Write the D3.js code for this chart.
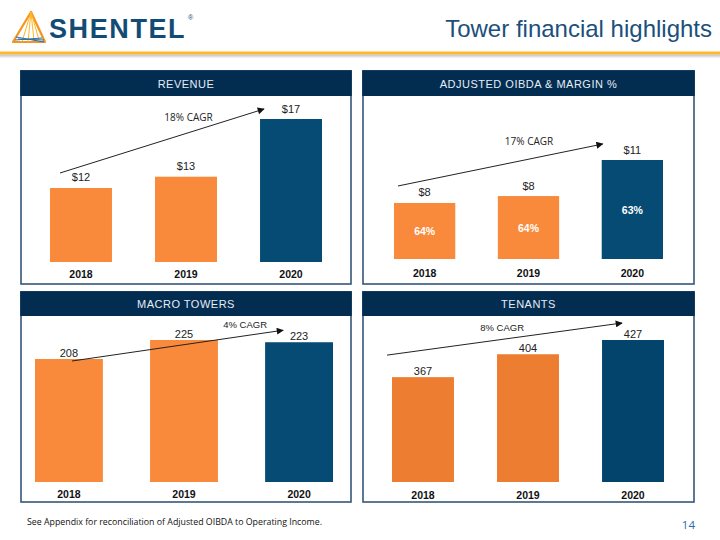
<!DOCTYPE html>
<html><head><meta charset="utf-8">
<script src="https://cdn.jsdelivr.net/npm/d3@7"></script>
<style>body{margin:0;background:#fff}svg{display:block}</style>
</head><body><svg id="c" width="720" height="540"></svg>
<script>
// ---- data ----
const years = ["2018", "2019", "2020"];
const revenue = [11.7, 12.6, 17.2];
const oibda = [7.9, 8.4, 11.0];
const oibdaMargin = ["64%", "64%", "63%"];
const macroTowers = [208, 225, 223];
const tenants = [367, 404, 427];
const cagrLabels = ["18% CAGR", "17% CAGR", "4% CAGR", "8% CAGR"];
const panelTitles = ["REVENUE", "ADJUSTED OIBDA & MARGIN %", "MACRO TOWERS", "TENANTS"];
const pageTitle = "Tower financial highlights";
const footnote = "See Appendix for reconciliation of Adjusted OIBDA to Operating Income.";
const pageNumber = "14";

// ---- layout / style ----
const ORANGE = "#F98A3B", ORANGE2 = "#ED7D31", BLUE = "#064B73", NAVY = "#032C51", BORDER = "#35577A";
const AR = "'Liberation Sans', Arial, sans-serif";
const svg = d3.select("#c");

// header
const logo = svg.append("g");
logo.append("path").attr("d", "M31,12 L13,42 L45,42 Z").attr("fill", "none").attr("stroke", "#F7941D").attr("stroke-width", 2.2).attr("stroke-linejoin", "round");
[[31,12,22,42],[31,12,28,42],[31,12,34,41],[31,12,39,40]].forEach(l => logo.append("line").attr("x1", l[0]).attr("y1", l[1]).attr("x2", l[2]).attr("y2", l[3]).attr("stroke", "#FBB829").attr("stroke-width", 1));
[[16,37,44,42],[18,39,44,40],[15,40,42,38]].forEach(l => logo.append("line").attr("x1", l[0]).attr("y1", l[1]).attr("x2", l[2]).attr("y2", l[3]).attr("stroke", "#2E6FA7").attr("stroke-width", 1));
svg.append("text").attr("x", 49).attr("y", 37.5).attr("font-family", AR).attr("font-weight", "bold").attr("font-size", 27).attr("letter-spacing", 1.6).attr("fill", "#124C76").text("SHENTEL");
svg.append("text").attr("x", 188).attr("y", 20).attr("font-family", AR).attr("font-size", 7).attr("fill", "#124C76").text("®");
svg.append("text").attr("x", 712).attr("y", 36.5).attr("text-anchor", "end").attr("font-family", AR).attr("font-size", 24).attr("fill", "#1C4F7C").text(pageTitle);
const defs = svg.append("defs");
const sh = defs.append("linearGradient").attr("id", "sh").attr("x1", 0).attr("x2", 0).attr("y1", 0).attr("y2", 1);
sh.append("stop").attr("offset", 0).attr("stop-color", "#b9bfcc");
sh.append("stop").attr("offset", 1).attr("stop-color", "#ffffff");
svg.append("rect").attr("x", 0).attr("y", 54.5).attr("width", 720).attr("height", 4).attr("fill", "url(#sh)");
svg.append("rect").attr("x", 0).attr("y", 51.5).attr("width", 720).attr("height", 3).attr("fill", "#FDB92E");

// panels
const panels = [
  { title: panelTitles[0], vals: revenue, fmt: v => "$" + Math.round(v), box: [21, 71, 351, 284], hb: 96,
    xr: [50, 322], base: 262, top: 119, dom: [5.8, 17.2], colors: [ORANGE, ORANGE, BLUE], lab: 6.5, yearY: 277.5,
    a0: [10, -15], a1: [4, -10], t: 0.63, off: 12, cagr: cagrLabels[0], cf: "'Open Sans', sans-serif", cs: 10 },
  { title: panelTitles[1], vals: oibda, fmt: v => "$" + Math.round(v), inner: oibdaMargin, box: [363, 71, 694, 284], hb: 96,
    xr: [394, 663], base: 259, top: 160, dom: [3.86, 11.0], colors: [ORANGE, ORANGE, BLUE], lab: 6.5, yearY: 276.5,
    a0: [4, -17], a1: [1, -16], t: 0.64, off: 14.5, cagr: cagrLabels[1], cf: "'Open Sans', sans-serif", cs: 10 },
  { title: panelTitles[2], vals: macroTowers, fmt: v => v, box: [21, 292, 351, 502], hb: 316,
    xr: [35, 333], base: 482, top: 340, dom: [98, 225], colors: [ORANGE, ORANGE, BLUE], lab: 2, yearY: 497.5,
    a0: [37, 2], a1: [18, -12], t: 0.82, off: 7.5, cagr: cagrLabels[2], cf: AR, cs: 9.5 },
  { title: panelTitles[3], vals: tenants, fmt: v => v, box: [363, 292, 694, 502], hb: 316,
    xr: [392, 664], base: 482, top: 340, dom: [197.6, 427], colors: [ORANGE2, ORANGE2, "#03446C"], lab: 2, yearY: 498.5,
    a0: [-5, -22], a1: [20, -17], t: 0.49, off: 8, cagr: cagrLabels[3], cf: AR, cs: 9.5 }
];

defs.append("marker").attr("id", "arr").attr("viewBox", "0 0 10 10").attr("refX", 9).attr("refY", 5)
  .attr("markerWidth", 8).attr("markerHeight", 7).attr("markerUnits", "userSpaceOnUse").attr("orient", "auto")
  .append("path").attr("d", "M0,0 L10,5 L0,10 Z").attr("fill", "#111");

panels.forEach(p => {
  const [x0, y0, x1, y1] = p.box;
  const g = svg.append("g");
  g.append("rect").attr("x", x0).attr("y", y0).attr("width", x1 - x0).attr("height", y1 - y0)
    .attr("fill", "#fff").attr("stroke", BORDER).attr("stroke-width", 1.6);
  g.append("rect").attr("x", x0 - 0.8).attr("y", y0 - 0.8).attr("width", x1 - x0 + 1.6).attr("height", p.hb - y0 + 0.8).attr("fill", NAVY);
  g.append("text").attr("x", (x0 + x1) / 2).attr("y", (y0 + p.hb) / 2 + 4).attr("text-anchor", "middle")
    .attr("font-family", AR).attr("font-size", 11).attr("letter-spacing", 0.5).attr("fill", "#E6EDF4").text(p.title);

  const x = d3.scaleBand().domain(years).range(p.xr).paddingInner(0.41).paddingOuter(0);
  const y = d3.scaleLinear().domain(p.dom).range([p.base, p.top]);
  const data = years.map((yr, i) => ({ yr, v: p.vals[i], i }));

  g.selectAll(".bar").data(data).join("rect")
    .attr("x", d => x(d.yr)).attr("width", x.bandwidth())
    .attr("y", d => y(d.v)).attr("height", d => p.base - y(d.v))
    .attr("fill", d => p.colors[d.i]);

  g.selectAll(".val").data(data).join("text")
    .attr("x", d => x(d.yr) + x.bandwidth() / 2).attr("y", d => y(d.v) - p.lab)
    .attr("text-anchor", "middle").attr("font-family", AR).attr("font-size", 11).attr("fill", "#222")
    .text(d => p.fmt(d.v));

  if (p.inner) {
    g.selectAll(".inn").data(data).join("text")
      .attr("x", d => x(d.yr) + x.bandwidth() / 2).attr("y", d => (y(d.v) + p.base) / 2 + 4)
      .attr("text-anchor", "middle").attr("font-family", AR).attr("font-weight", "bold").attr("font-size", 10.5).attr("fill", "#fff")
      .text(d => p.inner[d.i]);
  }

  g.selectAll(".yr").data(data).join("text")
    .attr("x", d => x(d.yr) + x.bandwidth() / 2).attr("y", p.yearY)
    .attr("text-anchor", "middle").attr("font-family", AR).attr("font-weight", "bold").attr("font-size", 10.5).attr("fill", "#111")
    .text(d => d.yr);

  // CAGR arrow from first to last bar
  const sx = x(years[0]) + p.a0[0], sy = y(p.vals[0]) + p.a0[1];
  const ex = x(years[2]) + p.a1[0], ey = y(p.vals[2]) + p.a1[1];
  g.append("line").attr("x1", sx).attr("y1", sy).attr("x2", ex).attr("y2", ey)
    .attr("stroke", "#222").attr("stroke-width", 1).attr("marker-end", "url(#arr)");
  const tx = sx + p.t * (ex - sx), ty = sy + p.t * (ey - sy) - p.off;
  g.append("text").attr("x", tx).attr("y", ty).attr("text-anchor", "middle")
    .attr("font-family", p.cf).attr("font-size", p.cs).attr("fill", "#222").text(p.cagr);
});

// footer
svg.append("text").attr("x", 27).attr("y", 524.5).attr("font-family", "'Open Sans', sans-serif").attr("font-size", 8.8).attr("fill", "#111").text(footnote);
svg.append("text").attr("x", 695).attr("y", 529).attr("text-anchor", "end").attr("font-family", "'Open Sans', sans-serif").attr("font-size", 11.5).attr("fill", "#2A6EA6").text(pageNumber);
</script></body></html>
